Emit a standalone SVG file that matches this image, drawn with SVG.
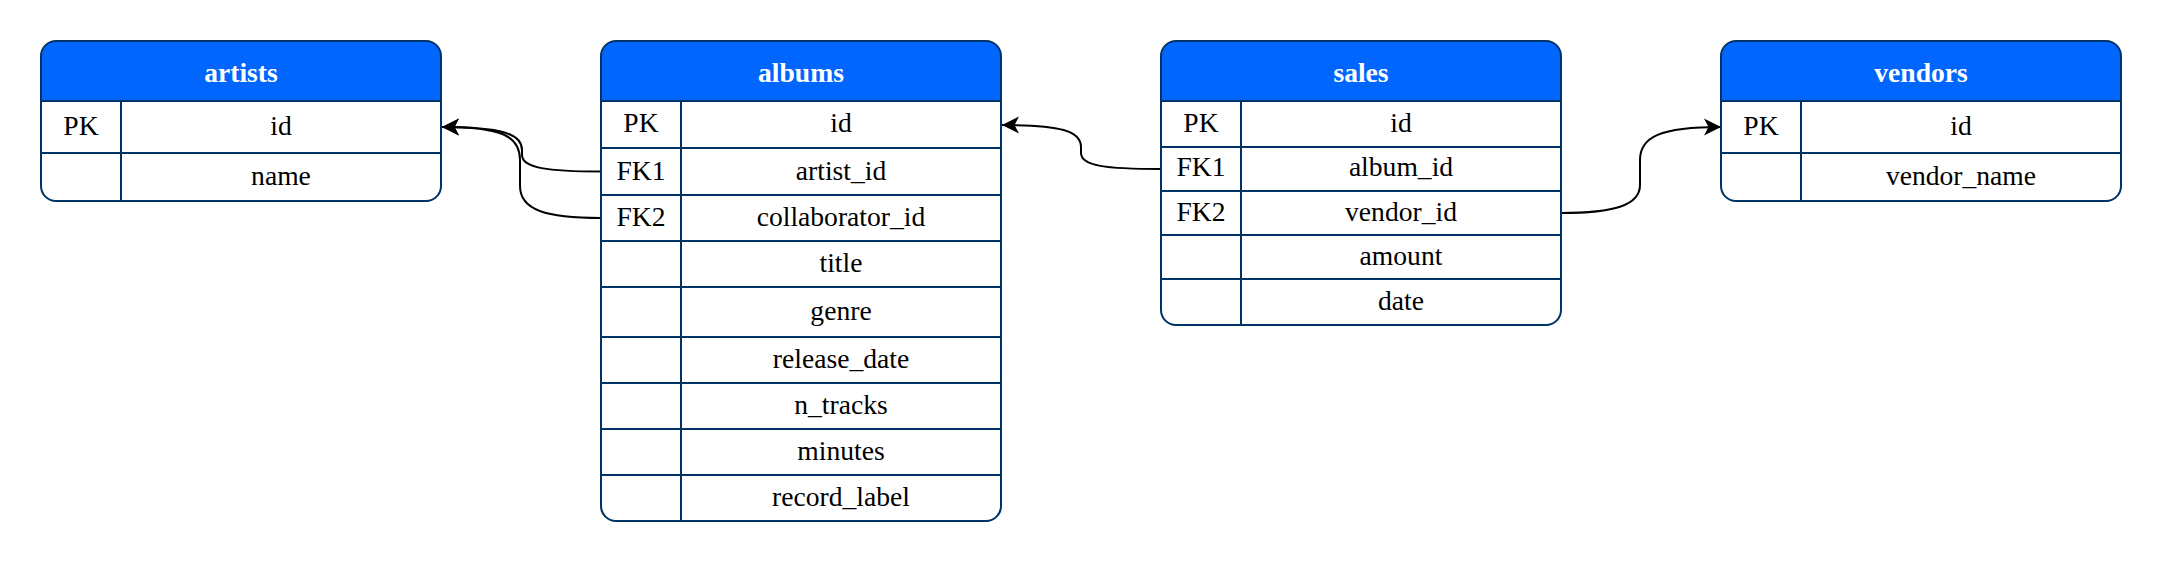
<svg xmlns="http://www.w3.org/2000/svg" width="2162" height="562" viewBox="0 0 2162 562">
<style>
.box{fill:#ffffff;stroke:none}
.hdr{fill:#0066ff;stroke:none}
.frame{fill:none;stroke:#003366;stroke-width:2}
.ln{stroke:#003366;stroke-width:2;fill:none}
.t{font-family:"Liberation Serif","Times New Roman",serif;font-size:27.6px;fill:#000000;text-anchor:middle}
.h{font-family:"Liberation Serif","Times New Roman",serif;font-size:27.6px;font-weight:bold;fill:#ffffff;text-anchor:middle}
.edge{fill:none;stroke:#000000;stroke-width:2;marker-end:url(#arrow)}
</style>
<defs>
<marker id="arrow" markerUnits="userSpaceOnUse" markerWidth="22" markerHeight="22" viewBox="-20 -11 22 22" refX="0" refY="0" orient="auto">
<path d="M0,0 L-17,-8.5 L-12.5,0 L-17,8.5 Z" fill="#000000"/>
</marker>
</defs>
<rect width="2162" height="562" fill="#ffffff"/>

<g id="connectors">
<path class="edge" d="M601,171.5 C548,171.5 522,168 522,155 L522,150 C522,134 502,127 442,127"/>
<path class="edge" d="M601,218 C546,218 520,210 520,186 L520,160 C520,136 502,127 442,127"/>
<path class="edge" d="M1161,169 C1106,169 1081,166 1081,153 L1081,147 C1081,131 1061,125 1002,125"/>
<path class="edge" d="M1561,213 C1615,213 1640,205 1640,185 L1640,160 C1640,137 1660,127 1721,127"/>
</g>

<g id="artists">
<rect class="box" x="41" y="41" width="400" height="160" rx="15"/>
<path class="hdr" d="M41,101 V56 A15,15 0 0 1 56,41 H426 A15,15 0 0 1 441,56 V101 Z"/>
<line class="ln" x1="41" y1="101" x2="441" y2="101"/>
<line class="ln" x1="41" y1="153" x2="441" y2="153"/>
<line class="ln" x1="121" y1="101" x2="121" y2="201"/>
<rect class="frame" x="41" y="41" width="400" height="160" rx="15"/>
<text class="h" x="241" y="81.5">artists</text>
<text class="t" x="81" y="134.5">PK</text>
<text class="t" x="281" y="134.5">id</text>
<text class="t" x="281" y="184.5">name</text>
</g>

<g id="albums">
<rect class="box" x="601" y="41" width="400" height="480" rx="15"/>
<path class="hdr" d="M601,101 V56 A15,15 0 0 1 616,41 H986 A15,15 0 0 1 1001,56 V101 Z"/>
<line class="ln" x1="601" y1="101" x2="1001" y2="101"/>
<line class="ln" x1="601" y1="148" x2="1001" y2="148"/>
<line class="ln" x1="601" y1="195" x2="1001" y2="195"/>
<line class="ln" x1="601" y1="241" x2="1001" y2="241"/>
<line class="ln" x1="601" y1="287" x2="1001" y2="287"/>
<line class="ln" x1="601" y1="337" x2="1001" y2="337"/>
<line class="ln" x1="601" y1="383" x2="1001" y2="383"/>
<line class="ln" x1="601" y1="429" x2="1001" y2="429"/>
<line class="ln" x1="601" y1="475" x2="1001" y2="475"/>
<line class="ln" x1="681" y1="101" x2="681" y2="521"/>
<rect class="frame" x="601" y="41" width="400" height="480" rx="15"/>
<text class="h" x="801" y="81.5">albums</text>
<text class="t" x="641" y="132">PK</text>
<text class="t" x="841" y="132">id</text>
<text class="t" x="641" y="179.5">FK1</text>
<text class="t" x="841" y="179.5">artist_id</text>
<text class="t" x="641" y="225.5">FK2</text>
<text class="t" x="841" y="225.5">collaborator_id</text>
<text class="t" x="841" y="271.5">title</text>
<text class="t" x="841" y="320">genre</text>
<text class="t" x="841" y="367.5">release_date</text>
<text class="t" x="841" y="413.5">n_tracks</text>
<text class="t" x="841" y="459.5">minutes</text>
<text class="t" x="841" y="505.5">record_label</text>
</g>

<g id="sales">
<rect class="box" x="1161" y="41" width="400" height="284" rx="15"/>
<path class="hdr" d="M1161,101 V56 A15,15 0 0 1 1176,41 H1546 A15,15 0 0 1 1561,56 V101 Z"/>
<line class="ln" x1="1161" y1="101" x2="1561" y2="101"/>
<line class="ln" x1="1161" y1="147" x2="1561" y2="147"/>
<line class="ln" x1="1161" y1="191" x2="1561" y2="191"/>
<line class="ln" x1="1161" y1="235" x2="1561" y2="235"/>
<line class="ln" x1="1161" y1="279" x2="1561" y2="279"/>
<line class="ln" x1="1241" y1="101" x2="1241" y2="325"/>
<rect class="frame" x="1161" y="41" width="400" height="284" rx="15"/>
<text class="h" x="1361" y="81.5">sales</text>
<text class="t" x="1201" y="131.5">PK</text>
<text class="t" x="1401" y="131.5">id</text>
<text class="t" x="1201" y="176">FK1</text>
<text class="t" x="1401" y="176">album_id</text>
<text class="t" x="1201" y="220.5">FK2</text>
<text class="t" x="1401" y="220.5">vendor_id</text>
<text class="t" x="1401" y="264.5">amount</text>
<text class="t" x="1401" y="309.5">date</text>
</g>

<g id="vendors">
<rect class="box" x="1721" y="41" width="400" height="160" rx="15"/>
<path class="hdr" d="M1721,101 V56 A15,15 0 0 1 1736,41 H2106 A15,15 0 0 1 2121,56 V101 Z"/>
<line class="ln" x1="1721" y1="101" x2="2121" y2="101"/>
<line class="ln" x1="1721" y1="153" x2="2121" y2="153"/>
<line class="ln" x1="1801" y1="101" x2="1801" y2="201"/>
<rect class="frame" x="1721" y="41" width="400" height="160" rx="15"/>
<text class="h" x="1921" y="81.5">vendors</text>
<text class="t" x="1761" y="134.5">PK</text>
<text class="t" x="1961" y="134.5">id</text>
<text class="t" x="1961" y="184.5">vendor_name</text>
</g>
</svg>
